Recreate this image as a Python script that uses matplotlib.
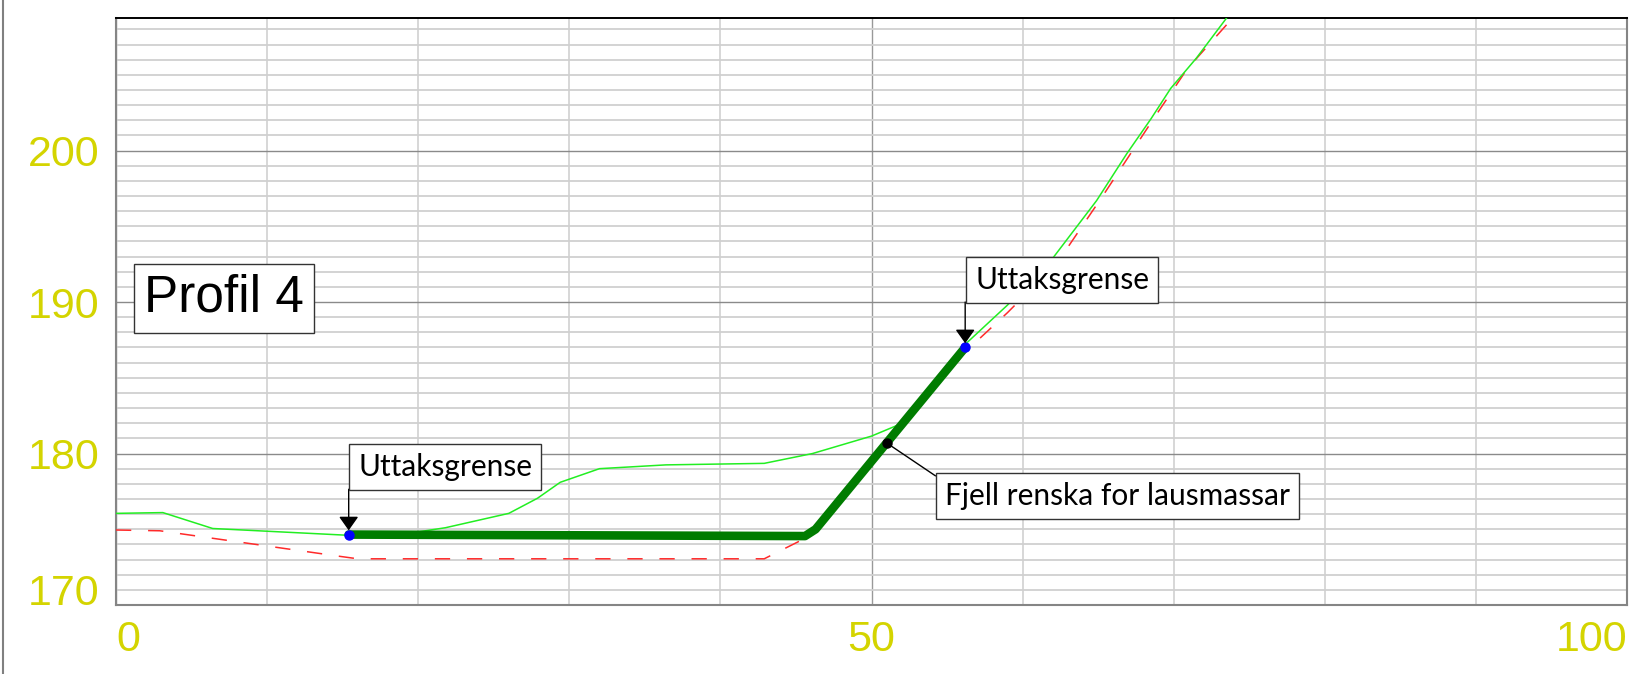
"""Terrain cross-section 'Profil 4' with excavation line and annotations."""

import matplotlib
import numpy as np

matplotlib.use("Agg")
import matplotlib.pyplot as plt
from matplotlib.lines import Line2D

# terrain surface (thin green)
terrain_x = [0, 3.1, 6.4, 15.4, 18.5, 21.8, 26.0, 27.9, 29.4, 32.0, 36.4, 42.9,
             46.1, 50.0, 51.8, 54.0, 56.3, 59.0, 62.0, 64.9, 66.9, 68.5, 69.8,
             71.5, 73.5]
terrain_y = [176.05, 176.1, 175.05, 174.6, 174.6, 175.1, 176.05, 177.05, 178.1,
             179.0, 179.25, 179.35, 180.0, 181.15, 181.9, 184.4, 187.3, 189.8,
             192.9, 196.7, 199.8, 202.1, 204.1, 206.1, 208.75]

# rock surface (red dashed)
rock_x = [0, 2.9, 14.9, 16.0, 42.9, 44.7, 46.0, 56.3, 59.0, 62.3, 65.3, 68.8,
          70.9, 73.9]
rock_y = [174.95, 174.9, 173.2, 173.05, 173.05, 173.95, 174.6, 186.8, 189.3,
          192.6, 197.0, 202.3, 205.4, 208.75]

# excavation boundary (thick dark green)
cut_x = [15.4, 45.6, 46.3, 56.2]
cut_y = [174.65, 174.55, 175.0, 187.0]

limit_x = [15.4, 56.2]
limit_y = [174.65, 187.0]

rock_point = (51.0, 180.7)

x_ticks = [0, 50, 100]
y_ticks = [170, 180, 190, 200]
X_MAX = 100
Y_MIN, Y_MAX = 170, 208.75

TICK_COLOR = "#d4d400"
LABEL_FONT = "Lato"
LABEL_SIZE = 21.5

fig = plt.figure(figsize=(16.32, 6.74), dpi=100)
ax = fig.add_axes([116 / 1632, 1 - 605 / 674, 1511 / 1632, 587 / 674])

ax.set_xlim(0, X_MAX)
ax.set_ylim(Y_MIN, Y_MAX)

ax.set_xticks(x_ticks)
ax.set_xticks(np.arange(0, X_MAX + 1, 10), minor=True)
ax.set_yticks(y_ticks)
ax.set_yticks(np.arange(Y_MIN, 209, 1), minor=True)
ax.set_yticklabels([str(v) for v in y_ticks])
ax.set_xticklabels([str(v) for v in x_ticks])

ax.grid(which="minor", axis="y", color="#d0d0d0", linewidth=1.3, zorder=0)
ax.grid(which="major", axis="y", color="#8a8a8a", linewidth=1.0, zorder=0)
ax.grid(which="minor", axis="x", color="#d4d4d4", linewidth=1.3, zorder=0)
ax.grid(which="major", axis="x", color="#999999", linewidth=1.0, zorder=0)
ax.set_axisbelow(True)

ax.tick_params(which="both", length=0)
ax.tick_params(axis="y", pad=12, labelsize=31, labelcolor=TICK_COLOR)
ax.tick_params(axis="x", pad=11, labelsize=31, labelcolor=TICK_COLOR)
for label in ax.get_xticklabels() + ax.get_yticklabels():
    label.set_fontfamily("Liberation Sans")
ax.get_xticklabels()[0].set_ha("left")
ax.get_xticklabels()[-1].set_ha("right")
ax.get_yticklabels()[0].set_va("baseline")

ax.spines["top"].set_color("black")
ax.spines["top"].set_linewidth(1.4)
for side in ("left", "bottom", "right"):
    ax.spines[side].set_color("#858585")
    ax.spines[side].set_linewidth(1.5)

ax.plot(rock_x, rock_y, color="#ff2a2a", linewidth=1.1,
        dashes=(10, 11), zorder=3)
ax.plot(terrain_x, terrain_y, color="#22ee22", linewidth=1.1, zorder=3)
ax.plot(cut_x, cut_y, color="#007c00", linewidth=6.2,
        solid_joinstyle="round", solid_capstyle="round", zorder=4)
ax.plot(limit_x, limit_y, "o", color="#0000ff", markersize=6.5, zorder=5)
ax.plot(*rock_point, "o", color="black", markersize=6.5, zorder=6)

box = {"boxstyle": "square,pad=0.3", "facecolor": "white",
       "edgecolor": "#333333", "linewidth": 1.0}
arrow = {"arrowstyle": "-|>,head_length=0.85,head_width=0.6",
         "mutation_scale": 10, "color": "black", "linewidth": 1.0,
         "shrinkA": 0, "shrinkB": 3}

# "Uttaksgrense" labels: box above each limit point, vertical arrow down
label_boxes = [((16.03, 179.1), 177.64), ((56.85, 191.48), 190.0)]
for (px, py), ((tx, ty), box_bottom) in zip(zip(limit_x, limit_y), label_boxes):
    ax.annotate("", xy=(px, py), xytext=(px, box_bottom),
                arrowprops=arrow, zorder=6)
    ax.text(tx, ty, "Uttaksgrense", ha="left", va="center",
            fontsize=LABEL_SIZE, fontfamily=LABEL_FONT, bbox=box, zorder=7)

ax.annotate("Fjell renska for lausmassar", xy=rock_point,
            xytext=(54.86, 177.18), ha="left", va="center", fontsize=LABEL_SIZE,
            fontfamily=LABEL_FONT, bbox=box, zorder=7,
            arrowprops={"arrowstyle": "-", "color": "black", "linewidth": 1.0,
                        "relpos": (0, 1), "shrinkA": 0, "shrinkB": 2})

ax.text(1.87, 190.25, "Profil 4", ha="left", va="center", fontsize=37,
        fontfamily="Liberation Sans", zorder=7,
        bbox={"boxstyle": "square,pad=0.19", "facecolor": "white",
              "edgecolor": "#333333", "linewidth": 1.0})

fig.add_artist(Line2D([3 / 1632, 3 / 1632], [0, 1], color="#808080",
                      linewidth=1.5, transform=fig.transFigure))

fig.savefig("out.png", dpi=100)
